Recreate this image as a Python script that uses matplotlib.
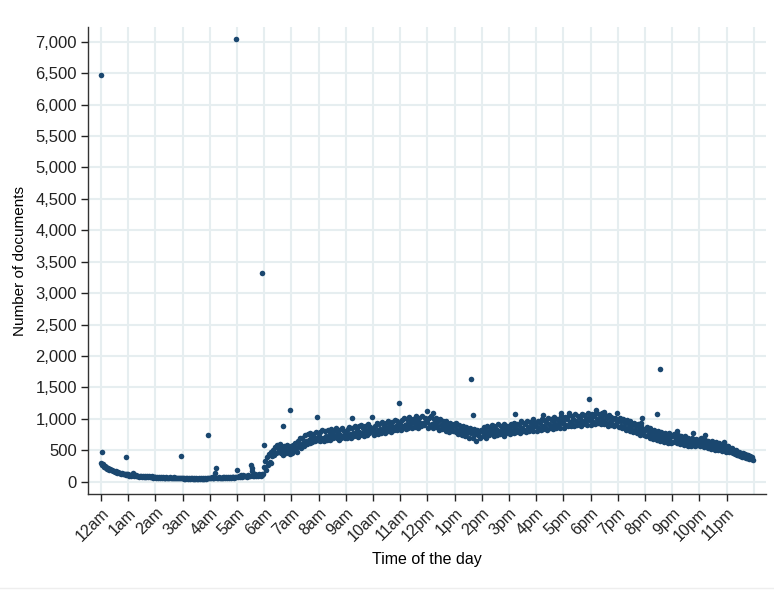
import numpy as np
import matplotlib.pyplot as plt
from matplotlib.ticker import FuncFormatter

# Documents per 2-minute slot, one row per hour of the day (30 slots each)
hourly_counts = [
    [305, 270, 285, 240, 255, 222, 230, 205, 214, 190, 196, 178, 185, 165, 172, 158, 150, 162, 140, 148, 135, 142, 128, 134, 122, 130, 118, 125, 112, 120],
    [120, 98, 112, 92, 106, 140, 95, 108, 86, 102, 84, 98, 80, 95, 88, 76, 93, 74, 90, 80, 72, 88, 70, 85, 78, 68, 83, 66, 80, 72],
    [72, 64, 70, 60, 75, 62, 68, 58, 73, 60, 66, 56, 71, 59, 64, 55, 69, 58, 62, 53, 67, 57, 61, 52, 65, 56, 60, 51, 63, 55],
    [54, 47, 58, 45, 52, 61, 47, 55, 42, 51, 58, 46, 53, 49, 43, 56, 50, 45, 59, 48, 53, 44, 57, 50, 46, 55, 49, 60, 52, 58],
    [62, 55, 70, 52, 66, 58, 140, 213, 64, 58, 72, 55, 66, 61, 74, 58, 69, 63, 77, 60, 71, 66, 80, 62, 74, 68, 82, 64, 76, 70],
    [190, 82, 95, 76, 104, 88, 79, 110, 92, 85, 98, 80, 105, 90, 84, 265, 210, 170, 98, 87, 115, 94, 102, 90, 120, 108, 96, 125, 105, 118],
    [230, 330, 185, 400, 265, 440, 320, 470, 290, 410, 500, 420, 545, 450, 580, 470, 520, 600, 455, 540, 490, 430, 575, 510, 460, 590, 485, 545, 440, 560],
    [540, 460, 590, 500, 620, 530, 480, 640, 560, 690, 590, 530, 700, 620, 560, 740, 650, 600, 760, 670, 610, 780, 690, 630, 760, 710, 640, 790, 700, 660],
    [720, 640, 790, 680, 820, 700, 650, 800, 730, 670, 830, 710, 770, 660, 840, 740, 690, 810, 720, 850, 700, 780, 660, 830, 750, 700, 860, 730, 800, 690],
    [770, 690, 840, 730, 870, 760, 700, 850, 780, 720, 890, 770, 830, 710, 880, 790, 740, 900, 780, 850, 730, 880, 800, 750, 910, 820, 770, 870, 800, 840],
    [820, 740, 890, 790, 930, 820, 760, 910, 840, 780, 950, 830, 890, 770, 940, 860, 800, 960, 850, 900, 790, 950, 870, 820, 980, 880, 830, 960, 870, 920],
    [910, 830, 980, 870, 1010, 900, 840, 990, 920, 860, 1030, 910, 960, 850, 1000, 930, 870, 1040, 920, 980, 860, 1020, 940, 880, 1050, 930, 900, 1010, 950, 990],
    [950, 860, 1020, 900, 1050, 920, 850, 1000, 930, 870, 1010, 880, 960, 830, 990, 900, 840, 970, 870, 930, 810, 960, 860, 900, 790, 940, 840, 880, 800, 920],
    [880, 790, 930, 820, 760, 900, 800, 860, 740, 880, 790, 840, 720, 870, 780, 830, 700, 850, 770, 810, 690, 840, 760, 800, 650, 830, 750, 790, 700, 820],
    [810, 720, 870, 760, 830, 700, 880, 790, 740, 860, 770, 900, 800, 720, 880, 780, 840, 740, 910, 810, 760, 880, 790, 850, 730, 920, 820, 770, 890, 800],
    [850, 760, 920, 800, 880, 780, 940, 850, 790, 920, 820, 900, 780, 960, 860, 800, 940, 830, 910, 790, 970, 870, 810, 950, 850, 920, 810, 990, 880, 930],
    [890, 800, 970, 850, 930, 820, 1000, 890, 840, 980, 870, 950, 830, 1020, 910, 850, 990, 880, 960, 840, 1030, 920, 860, 1000, 900, 970, 850, 1040, 930, 980],
    [950, 860, 1030, 900, 990, 880, 1060, 950, 890, 1040, 920, 1000, 880, 1070, 960, 900, 1050, 930, 1010, 890, 1080, 970, 910, 1060, 950, 1020, 900, 1090, 980, 1030],
    [1000, 900, 1080, 950, 1040, 920, 1100, 990, 930, 1070, 950, 1030, 910, 1090, 980, 920, 1060, 940, 1010, 890, 1060, 950, 900, 1030, 920, 990, 880, 1020, 910, 980],
    [970, 870, 1010, 890, 960, 850, 1000, 870, 940, 830, 980, 860, 920, 810, 960, 840, 900, 790, 940, 820, 880, 770, 910, 800, 860, 750, 890, 780, 840, 740],
    [820, 730, 870, 750, 810, 700, 850, 730, 790, 680, 830, 720, 770, 660, 810, 700, 750, 640, 790, 690, 730, 630, 780, 680, 720, 620, 760, 660, 710, 610],
    [720, 630, 760, 650, 700, 610, 750, 640, 690, 600, 730, 630, 670, 580, 720, 620, 660, 570, 700, 610, 650, 560, 690, 600, 640, 560, 680, 590, 630, 670],
    [650, 570, 690, 590, 630, 550, 670, 570, 610, 530, 650, 560, 600, 520, 640, 550, 590, 510, 630, 540, 580, 500, 610, 530, 570, 490, 600, 520, 560, 480],
    [560, 490, 570, 480, 540, 470, 540, 460, 510, 440, 510, 430, 480, 420, 480, 410, 460, 400, 450, 390, 440, 380, 430, 370, 420, 360, 410, 360, 400, 350],
]

# Isolated minutes with unusual counts
spike_minutes = [0, 1, 56, 177, 237, 298, 355, 359, 402, 417, 476, 554, 597, 657, 718, 732,
                 817, 821, 913, 974, 1015, 1033, 1077, 1092, 1110, 1138, 1191, 1194, 1227,
                 1233, 1254, 1270, 1307, 1332, 1374]
spike_counts = [6470, 470, 390, 410, 745, 7050, 3320, 580, 886, 1140, 1035, 1008, 1024, 1257, 1125, 1088,
                1640, 1061, 1077, 1061, 1088, 1098, 1316, 1141, 1114, 1088, 939, 1008, 1072,
                1800, 780, 811, 770, 735, 636]

hour_labels = ['12am'] + [f'{h}am' for h in range(1, 12)] + ['12pm'] + [f'{h}pm' for h in range(1, 12)]

counts = np.concatenate(hourly_counts)
minutes = np.arange(len(counts)) * 2
x = np.concatenate([minutes, spike_minutes]) / 60
y = np.concatenate([counts, spike_counts])

plt.rcParams['font.family'] = ['Liberation Sans', 'DejaVu Sans']

fig = plt.figure(figsize=(7.74, 5.93), dpi=100)
ax = fig.add_axes([88 / 774, 99 / 593, 678 / 774, 467 / 593])

grid_color = '#e6eef0'
ax.scatter(x, y, s=16, color='#1a476f', linewidths=0, zorder=3)

ax.set_xlim(-0.48, 24.45)
ax.set_ylim(-196, 7234)
ax.set_xticks(range(24))
ax.set_xticklabels(hour_labels, rotation=45, ha='right', rotation_mode='anchor', fontsize=11.5)
ax.set_yticks(range(0, 7001, 500))
ax.yaxis.set_major_formatter(FuncFormatter(lambda v, p: f'{int(v):,}'))
ax.tick_params(axis='y', labelsize=12, length=5, width=1, pad=3, colors='#222222')
ax.tick_params(axis='x', length=5, width=1, pad=3, colors='#222222')
ax.grid(True, color=grid_color, linewidth=1.5, zorder=0)
ax.axvline(24, color=grid_color, linewidth=1.5, zorder=0)
ax.set_axisbelow(True)

for side in ['top', 'right']:
    ax.spines[side].set_visible(False)
for side in ['left', 'bottom']:
    ax.spines[side].set_color('#333333')
    ax.spines[side].set_linewidth(1.0)

ax.set_xlabel('Time of the day', fontsize=11.5, labelpad=6)
ax.set_ylabel('Number of documents', fontsize=11, labelpad=6)

# faint rule along the bottom of the graph region
fig.add_artist(plt.Line2D([0, 1], [5 / 593, 5 / 593], color='#eeeeee', linewidth=1.0))

fig.savefig('out.png', dpi=100)
